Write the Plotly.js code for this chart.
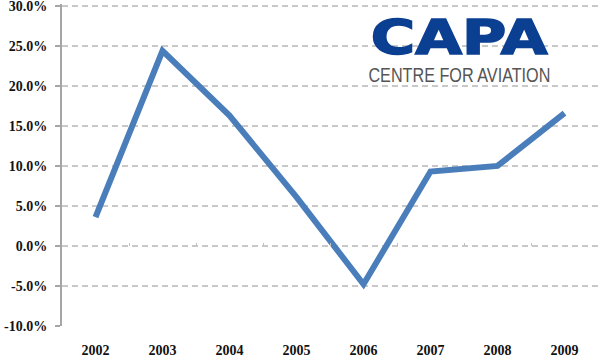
<!DOCTYPE html>
<html>
<head>
<meta charset="utf-8">
<script src="https://cdn.plot.ly/plotly-3.0.1.min.js"></script>
<style>
  html, body { margin: 0; padding: 0; background: #fff; }
  #chart { width: 600px; height: 363px; }
  g.annotation[data-index="0"] text.annotation-text {
    transform-box: fill-box; transform-origin: center; transform: scaleX(1.26);
    stroke: #0b3f91; stroke-width: 1.6px; stroke-linejoin: miter;
  }
  g.annotation[data-index="1"] text.annotation-text {
    transform-box: fill-box; transform-origin: center; transform: scaleX(0.81);
  }
</style>
</head>
<body>
<div id="chart"></div>
<script>
const years = ['2002', '2003', '2004', '2005', '2006', '2007', '2008', '2009'];
const growth = [3.6, 24.4, 16.3, 6.1, -4.8, 9.3, 10.0, 16.6];
const yTicks = [-10, -5, 0, 5, 10, 15, 20, 25, 30];
const logoTitle = 'CAPA';
const logoSubtitle = 'CENTRE FOR AVIATION';

const serif = 'Liberation Serif, Times New Roman, serif';

const traces = [
  {
    x: years, y: growth, type: 'scatter', mode: 'lines',
    line: { color: '#4a7ebb', width: 6 },
    hoverinfo: 'skip', showlegend: false
  },
  {
    x: years, y: growth, type: 'scatter', mode: 'lines',
    xaxis: 'x2', line: { color: 'rgba(0,0,0,0)', width: 0 },
    hoverinfo: 'skip', showlegend: false
  }
];

const layout = {
  width: 600, height: 363,
  margin: { l: 62, r: 2, t: 4, b: 37 },
  paper_bgcolor: '#ffffff', plot_bgcolor: '#ffffff',
  showlegend: false,
  xaxis: {
    type: 'category', categoryarray: years, range: [-0.5, 7.5],
    showgrid: false, showline: false, zeroline: false, ticks: '',
    ticklabelstandoff: 14,
    tickfont: { family: serif, size: 14, color: '#111', weight: 'bold' }
  },
  xaxis2: {
    type: 'category', categoryarray: years, range: [-0.5, 7.5],
    overlaying: 'x', anchor: 'free', position: 0.2484, side: 'bottom',
    showgrid: false, showline: false, zeroline: false,
    ticks: 'inside', ticklen: 3, tickwidth: 1, tickcolor: '#c0c0c0',
    tickson: 'boundaries', showticklabels: false
  },
  yaxis: {
    range: [-10.02, 30.25], tickmode: 'array', tickvals: yTicks,
    ticktext: yTicks.map(v => v.toFixed(1) + '%'),
    showgrid: true, gridcolor: '#c8c8c8', gridwidth: 1.5, griddash: '6px,4px',
    zeroline: false,
    showline: true, linecolor: '#a6a6a6', linewidth: 2,
    ticks: 'outside', ticklen: 5, tickwidth: 1.5, tickcolor: '#a6a6a6',
    ticklabelstandoff: 5, ticklabeloverflow: 'allow',
    tickfont: { family: serif, size: 14, color: '#111', weight: 'bold' }
  },
  annotations: [
    {
      xref: 'paper', yref: 'paper', x: 0.7416, y: 0.897,
      xanchor: 'center', yanchor: 'middle', showarrow: false,
      text: logoTitle,
      font: { family: 'DejaVu Sans, sans-serif', size: 48, color: '#0b3f91', weight: 'bold' }
    },
    {
      xref: 'paper', yref: 'paper', x: 0.7416, y: 0.781,
      xanchor: 'center', yanchor: 'middle', showarrow: false,
      text: logoSubtitle,
      font: { family: 'Liberation Sans, Arial, sans-serif', size: 20, color: '#555555' }
    }
  ]
};

Plotly.newPlot('chart', traces, layout, { staticPlot: true, displayModeBar: false });
</script>
</body>
</html>
